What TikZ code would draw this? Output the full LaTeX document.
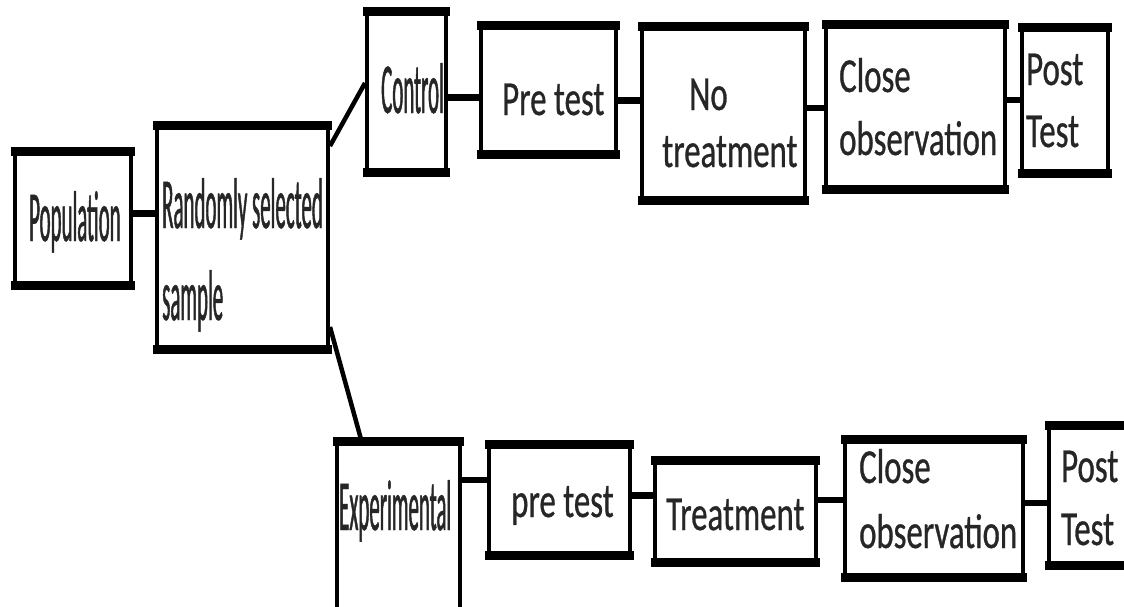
\documentclass[tikz,border=0pt]{standalone}
\usepackage{fontspec}
\newfontfamily\nf[FakeStretch=0.67, FakeBold=0.6]{Carlito}
\newfontfamily\cf[FakeStretch=0.29, FakeBold=0.6]{Carlito}
\begin{document}
\begin{tikzpicture}[x=1pt,y=-1pt,
  box/.style={draw, line width=4pt, inner sep=0pt,
    append after command={
      (\tikzlastnode.north west) edge[line width=9pt, shorten <=-2pt, shorten >=-2pt] (\tikzlastnode.north east)
      (\tikzlastnode.south west) edge[line width=9pt, shorten <=-2pt, shorten >=-2pt] (\tikzlastnode.south east)}},
  txt/.style={inner sep=0pt, anchor=base west, text=black!85, font=\nf\fontsize{49}{63}\selectfont},
  ctxt/.style={inner sep=0pt, anchor=base west, text=black!85, font=\cf\fontsize{72}{92}\selectfont},
  link/.style={draw, line width=7pt},
  diag/.style={draw, line width=4.5pt}
]
\fill[white] (0,0) rectangle (1124,606);
\useasboundingbox (0,0) rectangle (1124,606);

% boxes: center, width, height (border centre lines)
\node[box, minimum width=116pt, minimum height=130pt] (pop)  at (73,218) {};
\node[box, minimum width=171pt, minimum height=220pt] (rand) at (242.5,237) {};
\node[box, minimum width=79pt,  minimum height=157pt] (ctrl) at (406.5,91.5) {};
\node[box, minimum width=135pt, minimum height=125pt] (pt1)  at (548.5,89.5) {};
\node[box, minimum width=163pt, minimum height=170pt] (nt)   at (723.5,113) {};
\node[box, minimum width=179pt, minimum height=161pt] (co1)  at (915.5,106.5) {};
\node[box, minimum width=86pt,  minimum height=142pt] (po1)  at (1065,100) {};
\node[box, minimum width=123pt, minimum height=172pt] (exp)  at (398.5,529) {};
\node[box, minimum width=141pt, minimum height=107pt] (pt2)  at (559.5,499.5) {};
\node[box, minimum width=161pt, minimum height=98pt]  (tr)   at (735.5,511) {};
\node[box, minimum width=178pt, minimum height=134pt] (co2)  at (934,508) {};
\node[box, minimum width=86pt,  minimum height=136pt] (po2)  at (1092,495) {};

% texts
\node[ctxt] (popT)  at (29,241)  {Population};
\node[ctxt] (randT) at (162,228) {Randomly selected};
\node[ctxt] (randS) at (162,320) {sample};
\node[ctxt] (ctrlT) at (381,113) {Control};
\node[txt]  (pt1T)  at (502,115) {Pre test};
\node[txt]  (ntA)   at (689,110) {No};
\node[txt]  (ntB)   at (662,167) {treatment};
\node[txt]  (co1A)  at (839,92)  {Close};
\node[txt]  (co1B)  at (839,155) {observation};
\node[txt]  (po1A)  at (1026,85) {Post};
\node[txt]  (po1B)  at (1026,147){Test};
\node[ctxt] (expT)  at (339,530) {Experimental};
\node[txt]  (pt2T)  at (511,517) {pre test};
\node[txt]  (trT)   at (666,530) {Treatment};
\node[txt]  (co2A)  at (859,483) {Close};
\node[txt]  (co2B)  at (859,548) {observation};
\node[txt]  (po2A)  at (1061,482){Post};
\node[txt]  (po2B)  at (1061,545){Test};

% connectors
\draw[link] ([yshift=5pt]pop.east) -- ([yshift=5pt]pop.east -| rand.west);
\draw[diag] ([yshift=-21pt]rand.north east) -- ([yshift=8.5pt]ctrl.west);
\draw[diag] ([yshift=22pt]rand.south east) -- ([xshift=-37pt]exp.north);
\draw[link] ([yshift=-5.5pt]ctrl.east) -- ([yshift=-5.5pt]ctrl.east -| pt1.west);
\draw[link] ([yshift=-10.5pt]pt1.east) -- ([yshift=-10.5pt]pt1.east -| nt.west);
\draw[link, line width=6pt] ([yshift=5pt]nt.east) -- ([yshift=5pt]nt.east -| co1.west);
\draw[link, line width=6pt] ([yshift=6.5pt]co1.east) -- ([yshift=6.5pt]co1.east -| po1.west);
\draw[link, line width=6pt] ([yshift=49pt]exp.east) -- ([yshift=49pt]exp.east -| pt2.west);
\draw[link] ([yshift=4.5pt]pt2.east) -- ([yshift=4.5pt]pt2.east -| tr.west);
\draw[link, line width=6pt] ([yshift=11pt]tr.east) -- ([yshift=11pt]tr.east -| co2.west);
\draw[link, line width=6pt] ([yshift=5pt]co2.east) -- ([yshift=5pt]co2.east -| po2.west);
\end{tikzpicture}
\end{document}
